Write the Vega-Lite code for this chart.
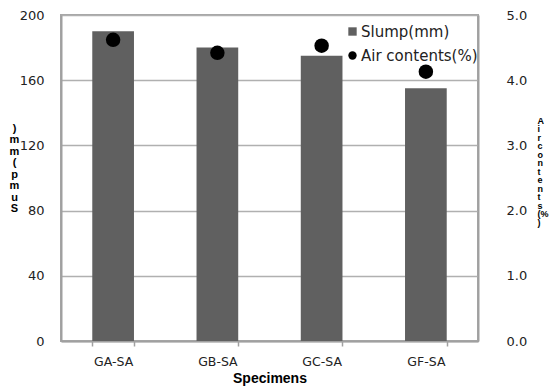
{
  "$schema": "https://vega.github.io/schema/vega-lite/v6.json",
  "width": 417,
  "height": 326,
  "autosize": "none",
  "padding": {"left": 61, "top": 15, "right": 71, "bottom": 47},
  "background": "white",
  "config": {
    "font": "DejaVu Sans",
    "view": {"stroke": "#a6a6a6", "strokeWidth": 2},
    "axis": {"labelFont": "DejaVu Sans", "labelColor": "#222", "titleColor": "#000", "domainColor": "#a0a0a0", "domainWidth": 2, "gridColor": "#b0b0b0", "gridWidth": 1.5, "tickColor": "#a0a0a0"}
  },
  "data": {
    "values": [
      {"specimen": "GA-SA", "slump": 190, "air": 4.62},
      {"specimen": "GB-SA", "slump": 180, "air": 4.42},
      {"specimen": "GC-SA", "slump": 175, "air": 4.53},
      {"specimen": "GF-SA", "slump": 155, "air": 4.13}
    ]
  },
  "encoding": {
    "x": {
      "field": "specimen", "type": "nominal", "sort": null,
      "scale": {"paddingInner": 0.6, "paddingOuter": 0.3},
      "axis": {"title": "Specimens", "titleFont": "Liberation Sans", "titleFontSize": 14, "titleFontWeight": "bold", "titlePadding": 4, "labelAngle": 0, "labelFontSize": 12.5, "labelDx": -13, "labelPadding": 9, "tickBand": "extent", "ticks": true, "tickSize": 5, "tickWidth": 1.5, "grid": false}
    }
  },
  "layer": [
    {
      "mark": {"type": "bar", "color": "#606060"},
      "encoding": {
        "y": {
          "field": "slump", "type": "quantitative",
          "scale": {"domain": [0, 200], "nice": false},
          "axis": {"values": [0, 40, 80, 120, 160, 200], "grid": true, "ticks": false, "labelFontSize": 13, "labelPadding": 17,
            "title": [")", "m", "m", "(", "p", "m", "u", "S"], "titleAngle": 0, "titleFontSize": 11, "titleFontWeight": "bold", "titleFont": "Liberation Sans", "titleLineHeight": 11.5, "titleX": -47, "titleY": 107, "titleAlign": "center", "titleBaseline": "top"}
        },
        "color": {"datum": "Slump(mm)", "type": "nominal",
          "scale": {"domain": ["Slump(mm)", "Air contents(%)"], "range": ["#606060", "#000000"]},
          "legend": {"title": null, "orient": "none", "legendX": 284, "legendY": 9, "labelFontSize": 15, "labelFont": "DejaVu Sans", "labelColor": "#222", "symbolSize": 70, "rowPadding": 8, "labelOffset": 1}
        }
      }
    },
    {
      "mark": {"type": "point", "filled": true, "size": 210, "opacity": 1},
      "encoding": {
        "y": {
          "field": "air", "type": "quantitative",
          "scale": {"domain": [0, 5], "nice": false},
          "axis": {"orient": "right", "values": [0, 1, 2, 3, 4, 5], "format": ".1f", "grid": false, "ticks": false, "labelFontSize": 13, "labelPadding": 28,
            "title": ["A", "i", "r", "c", "o", "n", "t", "e", "n", "t", "s", "(%", ")"], "titleAngle": 0, "titleFontSize": 9, "titleFontWeight": "bold", "titleFont": "Liberation Sans", "titleLineHeight": 8.5, "titleX": 59, "titleY": 101, "titleAlign": "left", "titleBaseline": "top"}
        },
        "color": {"datum": "Air contents(%)", "type": "nominal"},
        "shape": {"datum": "Air contents(%)", "type": "nominal",
          "scale": {"domain": ["Slump(mm)", "Air contents(%)"], "range": ["square", "circle"]},
          "legend": {"title": null}
        }
      }
    }
  ],
  "resolve": {"scale": {"y": "independent"}}
}
